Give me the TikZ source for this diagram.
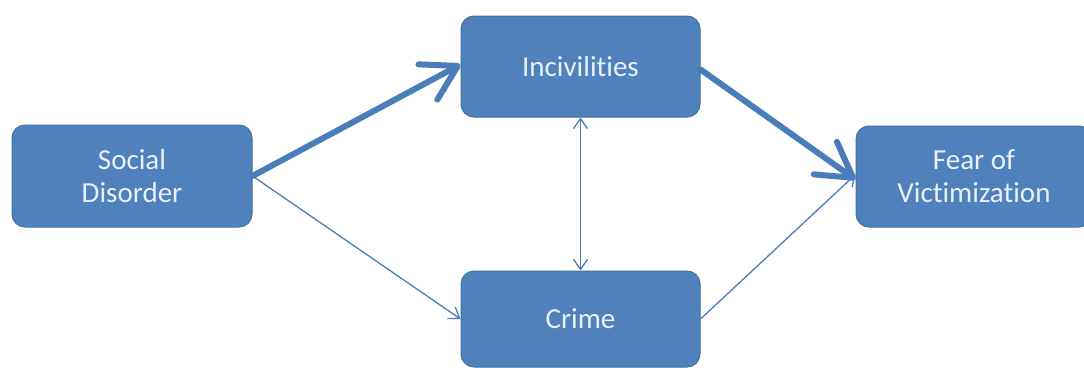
\documentclass[tikz,border=0pt]{standalone}
\usepackage{fontspec}
\setmainfont{Carlito}[Ligatures=NoCommon]
\usetikzlibrary{arrows.meta}
\definecolor{boxfill}{HTML}{4F81BD}
\definecolor{boxline}{HTML}{41719C}
\definecolor{boxtext}{HTML}{E9F1FA}
\definecolor{linkcol}{HTML}{4A7EBB}
\begin{document}
\begin{tikzpicture}[x=1pt,y=-1pt,
  box/.style={draw=boxline, line width=1pt, fill=boxfill, rounded corners=13pt,
    text=boxtext, font=\fontsize{29}{33}\selectfont, align=center, inner sep=0pt},
  thicklink/.style={draw=linkcol, line width=6pt, line cap=round,
    -{Straight Barb[length=34pt, width=40pt, line width=6pt, round]}},
  thinlink/.style={draw=linkcol, line width=1.3pt,
    -{Straight Barb[length=10pt, width=14pt, line width=1.3pt]}},
  bothlink/.style={draw=linkcol, line width=1.3pt,
    {Straight Barb[length=10pt, width=14pt, line width=1.3pt]}-{Straight Barb[length=10pt, width=14pt, line width=1.3pt]}}
]
\useasboundingbox (0,0) rectangle (1084,367);
\fill[white] (0,0) rectangle (1084,367);

\node[box, minimum width=240pt, minimum height=102pt] (sd) at (132,176) {Social\\Disorder};
\node[box, minimum width=239pt, minimum height=101pt] (inc) at (580.5,66.5) {Incivilities};
\node[box, minimum width=239pt, minimum height=96pt] (cr) at (580.5,319) {Crime};
\node[box, minimum width=236pt, minimum height=101pt] (fear) at (974,176.5) {Fear of\\Victimization};

\draw[thicklink] (sd.east) -- ([yshift=2pt]inc.west);
\draw[thicklink] ([yshift=-3pt]inc.east) -- ([yshift=-3pt]fear.west);
\draw[thinlink] (sd.east) -- (cr.west);
\draw[thinlink] (cr.east) -- ([yshift=2pt]fear.west);
\draw[bothlink] (inc.south) -- (cr.north);
\end{tikzpicture}
\end{document}
